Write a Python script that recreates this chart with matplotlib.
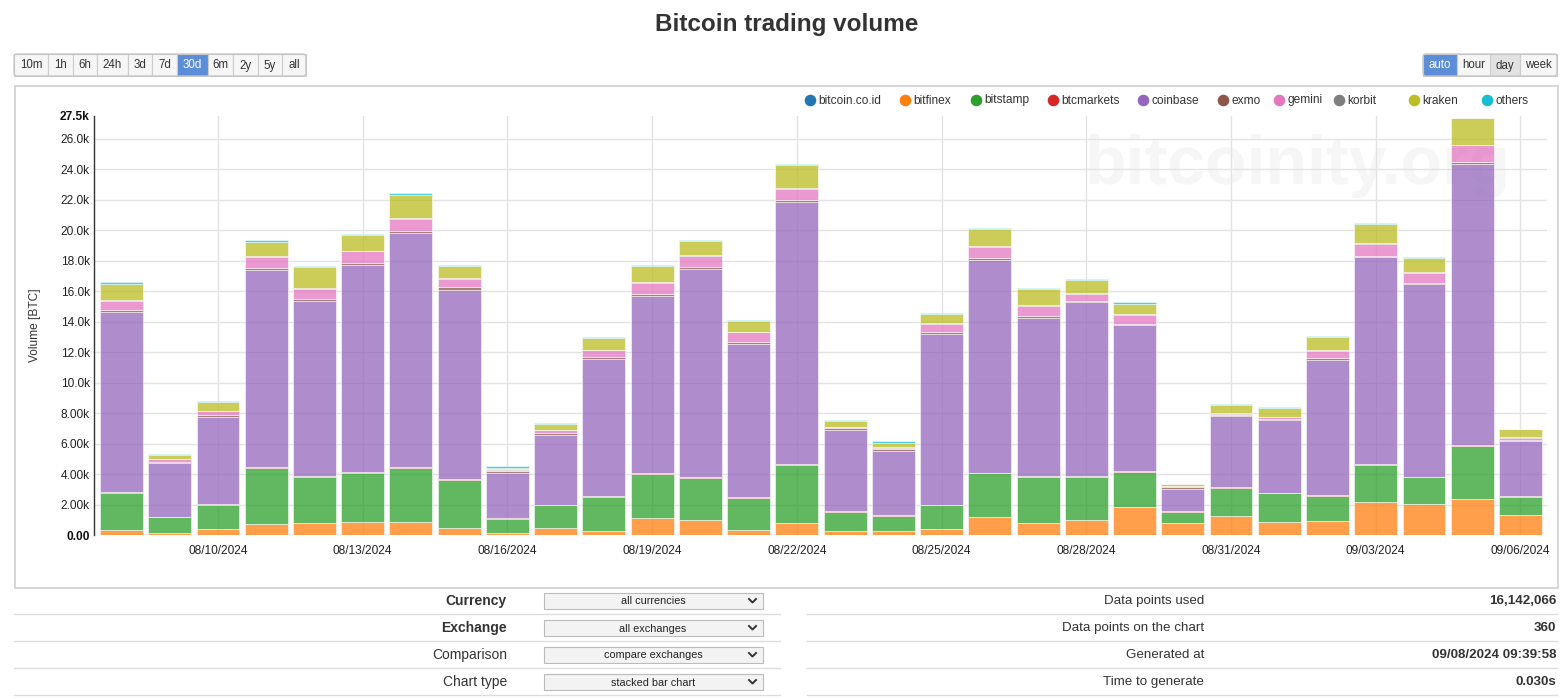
import matplotlib
matplotlib.use("Agg")
import matplotlib.pyplot as plt
from matplotlib.patches import Rectangle, FancyBboxPatch
import numpy as np
import pandas as pd

plt.rcParams['font.family'] = ['Liberation Sans', 'DejaVu Sans']

# ---------------- data (thousand BTC per day) ----------------
dates = pd.date_range("2024-08-08", "2024-09-06", freq="D").strftime("%m/%d/%Y").tolist()
tick_labels = ["08/10/2024", "08/13/2024", "08/16/2024", "08/19/2024", "08/22/2024",
               "08/25/2024", "08/28/2024", "08/31/2024", "09/03/2024", "09/06/2024"]

exchanges = ["bitcoin.co.id", "bitfinex", "bitstamp", "btcmarkets", "coinbase",
             "exmo", "gemini", "korbit", "kraken", "others"]
colors = ["#1f77b4", "#ff7f0e", "#2ca02c", "#d62728", "#9467bd",
          "#8c564b", "#e377c2", "#7f7f7f", "#bcbd22", "#17becf"]

bitcoin_co_id = [0.02, 0.01, 0.01, 0.02, 0.01, 0.02, 0.02, 0.01, 0.01, 0.01,
                 0.01, 0.02, 0.01, 0.01, 0.02, 0.01, 0.01, 0.01, 0.01, 0.02,
                 0.01, 0.01, 0.01, 0.02, 0.01, 0.01, 0.02, 0.01, 0.02, 0.01]
bitfinex = [0.33, 0.15, 0.37, 0.72, 0.77, 0.83, 0.81, 0.42, 0.09, 0.48,
            0.28, 1.12, 0.98, 0.35, 0.77, 0.24, 0.22, 0.37, 1.16, 0.79,
            0.98, 1.86, 0.77, 1.25, 0.87, 0.94, 2.15, 2.05, 2.36, 1.29]
bitstamp = [2.40, 1.00, 1.60, 3.66, 3.00, 3.20, 3.55, 3.20, 0.96, 1.47,
            2.22, 2.84, 2.77, 2.10, 3.81, 1.27, 1.01, 1.56, 2.87, 3.02,
            2.83, 2.26, 0.74, 1.81, 1.85, 1.63, 2.43, 1.72, 3.48, 1.22]
btcmarkets = [0.05, 0.05, 0.05, 0.05, 0.06, 0.06, 0.06, 0.05, 0.04, 0.04,
              0.06, 0.06, 0.06, 0.06, 0.06, 0.04, 0.04, 0.06, 0.06, 0.06,
              0.06, 0.06, 0.04, 0.04, 0.04, 0.05, 0.06, 0.04, 0.07, 0.05]
coinbase = [11.85, 3.50, 5.70, 12.96, 11.50, 13.63, 15.40, 12.42, 2.96, 4.58,
            8.97, 11.62, 13.62, 10.03, 17.17, 5.30, 4.25, 11.20, 13.94, 10.37,
            11.38, 9.60, 1.47, 4.67, 4.75, 8.86, 13.56, 12.64, 18.45, 3.60]
exmo = [0.12, 0.11, 0.15, 0.13, 0.14, 0.13, 0.13, 0.15, 0.13, 0.13,
        0.14, 0.13, 0.14, 0.13, 0.13, 0.13, 0.13, 0.12, 0.11, 0.12,
        0.09, 0.08, 0.09, 0.08, 0.11, 0.11, 0.09, 0.07, 0.09, 0.09]
gemini = [0.60, 0.16, 0.24, 0.70, 0.65, 0.75, 0.77, 0.58, 0.09, 0.15,
          0.45, 0.75, 0.74, 0.62, 0.78, 0.09, 0.08, 0.56, 0.77, 0.66,
          0.50, 0.58, 0.09, 0.09, 0.10, 0.50, 0.82, 0.66, 1.10, 0.13]
korbit = [0.03, 0.02, 0.03, 0.06, 0.05, 0.04, 0.04, 0.04, 0.05, 0.04,
          0.04, 0.04, 0.04, 0.04, 0.05, 0.04, 0.04, 0.04, 0.05, 0.04,
          0.04, 0.04, 0.03, 0.04, 0.03, 0.04, 0.04, 0.04, 0.04, 0.04]
kraken = [1.10, 0.23, 0.60, 0.95, 1.41, 1.02, 1.56, 0.78, 0.10, 0.40,
          0.73, 1.06, 0.92, 0.70, 1.47, 0.35, 0.27, 0.58, 1.11, 1.07,
          0.82, 0.70, 0.08, 0.51, 0.59, 0.86, 1.25, 0.96, 1.75, 0.51]
others = [0.08, 0.10, 0.07, 0.09, 0.07, 0.07, 0.09, 0.06, 0.09, 0.08,
          0.09, 0.06, 0.07, 0.06, 0.06, 0.09, 0.09, 0.04, 0.06, 0.04,
          0.06, 0.07, 0.06, 0.07, 0.08, 0.07, 0.04, 0.05, 0.04, 0.04]
series = [bitcoin_co_id, bitfinex, bitstamp, btcmarkets, coinbase,
          exmo, gemini, korbit, kraken, others]

yticks = [0, 2, 4, 6, 8, 10, 12, 14, 16, 18, 20, 22, 24, 26, 27.5]
ytick_labels = ["0.00", "2.00k", "4.00k", "6.00k", "8.00k", "10.0k", "12.0k", "14.0k",
                "16.0k", "18.0k", "20.0k", "22.0k", "24.0k", "26.0k", "27.5k"]

left_rows = [("Currency", True, "all currencies"), ("Exchange", True, "all exchanges"),
             ("Comparison", False, "compare exchanges"), ("Chart type", False, "stacked bar chart")]
right_rows = [("Data points used", "16,142,066"), ("Data points on the chart", "360"),
              ("Generated at", "09/08/2024 09:39:58"), ("Time to generate", "0.030s")]
range_buttons = ["10m", "1h", "6h", "24h", "3d", "7d", "30d", "6m", "2y", "5y", "all"]
res_buttons = ["auto", "hour", "day", "week"]

# ---------------- figure ----------------
W, H = 1564, 699
fig = plt.figure(figsize=(W / 100, H / 100), dpi=100)
bg = fig.add_axes([0, 0, 1, 1])
bg.set_xlim(0, W)
bg.set_ylim(H, 0)
bg.axis('off')
bg.set_zorder(0)

L, R, T, B = 94, 1547, 116, 535
ax = fig.add_axes([L / W, 1 - B / H, (R - L) / W, (B - T) / H])
ax.set_zorder(1)
ax.patch.set_alpha(0)

# chart frame
bg.add_patch(Rectangle((14.5, 85.5), 1543, 502, fill=False, ec='#cfcfcf', lw=1.2))

# title
bg.text(787, 24, "Bitcoin trading volume", ha='center', va='center',
        fontsize=17.5, fontweight='bold', color='#333333')

# watermark
bg.text(1298, 184, "bitcoinity.org", ha='center', va='baseline', fontsize=49,
        fontweight='bold', color='#f6f6f6')

# buttons
def button_group(edges, labels, y0, y1, active, pressed=None):
    for i, lab in enumerate(labels):
        x0, x1 = edges[i], edges[i + 1]
        if lab == active:
            fc, tc = '#5b8dd9', 'white'
        elif lab == pressed:
            fc, tc = '#e2e2e2', '#333333'
        else:
            fc, tc = '#f6f6f6', '#333333'
        bg.add_patch(Rectangle((x0, y0), x1 - x0, y1 - y0, fc=fc, ec='#cccccc', lw=0.8))
        bg.text((x0 + x1) / 2, (y0 + y1) / 2 + 0.5, lab, ha='center', va='center',
                fontsize=8.3, color=tc)
    bg.add_patch(FancyBboxPatch((edges[0], y0), edges[-1] - edges[0], y1 - y0,
                                boxstyle="round,pad=0,rounding_size=3",
                                fill=False, ec='#c4c4c4', lw=0.9))

button_group([14, 48, 73, 97, 128, 152, 177, 208, 233, 258, 282, 306],
             range_buttons, 54, 76, "30d")
button_group([1423, 1457, 1490, 1520, 1557], res_buttons, 54, 76, "auto", "day")

# legend
legend_x = [810, 905, 976, 1053, 1143, 1223, 1279, 1339, 1414, 1487]
for name, c, lx in zip(exchanges, colors, legend_x):
    bg.scatter([lx], [100], s=70, color=c, zorder=5, linewidths=0)
    bg.text(lx + 8, 100.5, name, ha='left', va='center', fontsize=8.6, color='#333333')

# ---------------- bars ----------------
x = np.arange(len(dates))
bottom = np.zeros(len(dates))
for name, c, vals in zip(exchanges, colors, series):
    v = np.array(vals)
    ax.bar(x, v, bottom=bottom, width=0.89, color=c, alpha=0.75,
           edgecolor='white', linewidth=0.5, zorder=3)
    bottom += v

ax.set_xlim(-0.57, 29.55)
ax.set_ylim(0, 27.5)

tick_pos = [dates.index(t) for t in tick_labels]
ax.set_xticks(tick_pos)
ax.set_xticklabels(tick_labels, fontsize=8.6, color='#222222')
ax.set_yticks(yticks)
ax.set_yticklabels(ytick_labels, fontsize=8.6, color='#222222')
for lbl in (ax.get_yticklabels()[0], ax.get_yticklabels()[-1]):
    lbl.set_fontweight('bold')
    lbl.set_color('#111111')
ax.tick_params(axis='both', length=0)
ax.tick_params(axis='x', pad=7)
ax.tick_params(axis='y', pad=3)

for yv in yticks[:-1]:
    ax.axhline(yv, color='#e3e3e3', lw=1, zorder=0)
for xp in tick_pos:
    ax.axvline(xp, color='#e3e3e3', lw=1, zorder=0)

for s in ['top', 'right', 'bottom']:
    ax.spines[s].set_visible(False)
ax.spines['left'].set_color('#333333')
ax.spines['left'].set_linewidth(1)

ax.set_ylabel("Volume [BTC]", fontsize=8.6, color='#333333')
ax.yaxis.set_label_coords(-0.0365, 0.5)

# ---------------- bottom table ----------------
row_y = [601, 628, 655, 682]
for ry in [614, 641, 668, 695]:
    bg.plot([14, 780], [ry, ry], color='#dddddd', lw=1)
    bg.plot([807, 1557], [ry, ry], color='#dddddd', lw=1)

for (lab, bold, opt), ry in zip(left_rows, row_y):
    bg.text(507, ry, lab, ha='right', va='center', fontsize=10,
            fontweight='bold' if bold else 'normal', color='#333333')
    bg.add_patch(Rectangle((544, ry - 8), 219, 16, fc='#f3f3f3', ec='#bbbbbb', lw=0.8))
    bg.text(653, ry + 0.5, opt, ha='center', va='center', fontsize=7.8, color='#222222')
    bg.plot([749, 752.5, 756], [ry - 2, ry + 1.5, ry - 2], color='#333333', lw=1.4)

for (lab, val), ry in zip(right_rows, row_y):
    bg.text(1204, ry, lab, ha='right', va='center', fontsize=9.6, color='#333333')
    bg.text(1556, ry, val, ha='right', va='center', fontsize=9.6,
            fontweight='bold', color='#333333')

fig.savefig("out.png", dpi=100)
